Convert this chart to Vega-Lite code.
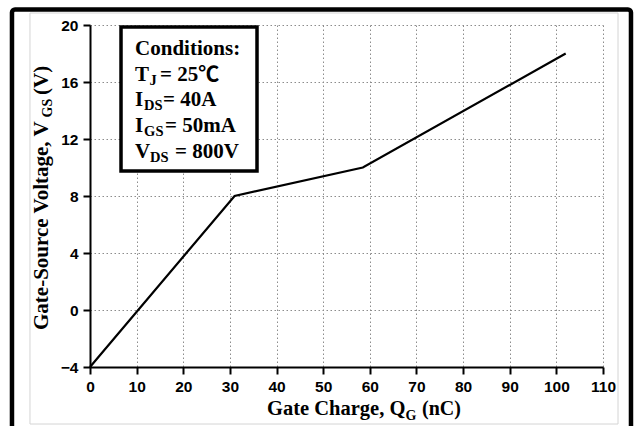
{
  "$schema": "https://vega.github.io/schema/vega-lite/v6.json",
  "width": 513,
  "height": 342,
  "autosize": {"type": "none"},
  "padding": {"left": 90, "top": 25, "right": 34, "bottom": 59},
  "background": "white",
  "config": {"view": {"stroke": null}},
  "datasets": {
    "curve": [
      {"qg": 0, "vgs": -4},
      {"qg": 31, "vgs": 8},
      {"qg": 58.5, "vgs": 10},
      {"qg": 102, "vgs": 18}
    ],
    "one": [{}]
  },
  "layer": [
    {
      "data": {"name": "one"},
      "mark": {"type": "rect", "filled": false, "stroke": "black", "strokeWidth": 4.5, "cornerRadius": 3},
      "encoding": {
        "x": {"datum": -16.73, "type": "quantitative"},
        "x2": {"datum": 116.0},
        "y": {"datum": 21.09, "type": "quantitative"},
        "y2": {"datum": -9.2}
      }
    },
    {
      "data": {"name": "one"},
      "mark": {"type": "rect", "filled": false, "stroke": "#d4d4d4", "strokeWidth": 1},
      "encoding": {
        "x": {"datum": -12.87, "type": "quantitative"},
        "x2": {"datum": 113.22},
        "y": {"datum": 20.84, "type": "quantitative"},
        "y2": {"datum": -8.0}
      }
    },
    {
      "data": {"name": "curve"},
      "mark": {"type": "line", "color": "black", "strokeWidth": 2.2},
      "encoding": {
        "x": {
          "field": "qg", "type": "quantitative",
          "scale": {"domain": [0, 110], "nice": false, "zero": false},
          "axis": {
            "title": null,
            "values": [0, 5, 10, 15, 20, 25, 30, 35, 40, 45, 50, 55, 60, 65, 70, 75, 80, 85, 90, 95, 100, 105, 110],
            "labelExpr": "datum.value % 10 === 0 ? datum.label : ''",
            "labelFont": "Liberation Sans", "labelFontWeight": "bold", "labelFontSize": 15.5, "labelColor": "black",
            "labelPadding": 5, "labelFlush": false, "labelOverlap": false,
            "domainColor": "black", "domainWidth": 2,
            "ticks": true, "tickColor": "black", "tickWidth": 2,
            "tickSize": {"condition": {"test": "datum.value % 10 !== 0", "value": 4}, "value": 7},
            "grid": true, "gridColor": "#8c8c8c", "gridDash": [1.5, 2.5], "gridWidth": 1,
            "gridOpacity": {"condition": {"test": "datum.value % 10 !== 0", "value": 0}, "value": 1}
          }
        },
        "y": {
          "field": "vgs", "type": "quantitative",
          "scale": {"domain": [-4, 20], "nice": false, "zero": false},
          "axis": {
            "title": null,
            "values": [-4, -2, 0, 2, 4, 6, 8, 10, 12, 14, 16, 18, 20],
            "labelExpr": "datum.value % 4 === 0 ? datum.label : ''",
            "labelFont": "Liberation Sans", "labelFontWeight": "bold", "labelFontSize": 15.5, "labelColor": "black",
            "labelPadding": 5, "labelFlush": false, "labelOverlap": false,
            "domainColor": "black", "domainWidth": 2,
            "ticks": true, "tickColor": "black", "tickWidth": 2,
            "tickSize": {"condition": {"test": "datum.value % 4 !== 0", "value": 4}, "value": 7},
            "grid": true, "gridColor": "#8c8c8c", "gridDash": [1.5, 2.5], "gridWidth": 1,
            "gridOpacity": {"condition": {"test": "datum.value % 4 !== 0", "value": 0}, "value": 1}
          }
        }
      }
    },
    {
      "data": {"name": "one"},
      "mark": {"type": "rect", "fill": "white", "stroke": "black", "strokeWidth": 3.5},
      "encoding": {
        "x": {"datum": 6.65, "type": "quantitative"},
        "x2": {"datum": 35.81},
        "y": {"datum": 19.86, "type": "quantitative"},
        "y2": {"datum": 9.75}
      }
    },
    {
      "data": {"name": "one"},
      "mark": {"type": "text", "text": "Conditions:", "font": "Liberation Serif", "fontWeight": "bold", "fontSize": 21, "align": "left", "baseline": "alphabetic", "color": "black"},
      "encoding": {"x": {"datum": 9.67, "type": "quantitative"}, "y": {"datum": 17.9, "type": "quantitative"}}
    },
    {
      "data": {"name": "one"},
      "mark": {"type": "text", "text": "T", "font": "Liberation Serif", "fontWeight": "bold", "fontSize": 21, "align": "left", "baseline": "alphabetic", "color": "black"},
      "encoding": {"x": {"datum": 9.67, "type": "quantitative"}, "y": {"datum": 16.1, "type": "quantitative"}}
    },
    {
      "data": {"name": "one"},
      "mark": {"type": "text", "text": "J", "dx": 14.5, "dy": 4, "font": "Liberation Serif", "fontWeight": "bold", "fontSize": 14.5, "align": "left", "baseline": "alphabetic", "color": "black"},
      "encoding": {"x": {"datum": 9.67, "type": "quantitative"}, "y": {"datum": 16.1, "type": "quantitative"}}
    },
    {
      "data": {"name": "one"},
      "mark": {"type": "text", "text": "= 25℃", "dx": 25, "font": "'Liberation Serif', 'Noto Sans CJK SC'", "fontWeight": "bold", "fontSize": 21, "align": "left", "baseline": "alphabetic", "color": "black"},
      "encoding": {"x": {"datum": 9.67, "type": "quantitative"}, "y": {"datum": 16.1, "type": "quantitative"}}
    },
    {
      "data": {"name": "one"},
      "mark": {"type": "text", "text": "I", "font": "Liberation Serif", "fontWeight": "bold", "fontSize": 21, "align": "left", "baseline": "alphabetic", "color": "black"},
      "encoding": {"x": {"datum": 9.67, "type": "quantitative"}, "y": {"datum": 14.32, "type": "quantitative"}}
    },
    {
      "data": {"name": "one"},
      "mark": {"type": "text", "text": "DS", "dx": 9, "dy": 4, "font": "Liberation Serif", "fontWeight": "bold", "fontSize": 14.5, "align": "left", "baseline": "alphabetic", "color": "black"},
      "encoding": {"x": {"datum": 9.67, "type": "quantitative"}, "y": {"datum": 14.32, "type": "quantitative"}}
    },
    {
      "data": {"name": "one"},
      "mark": {"type": "text", "text": "= 40A", "dx": 28, "font": "Liberation Serif", "fontWeight": "bold", "fontSize": 21, "align": "left", "baseline": "alphabetic", "color": "black"},
      "encoding": {"x": {"datum": 9.67, "type": "quantitative"}, "y": {"datum": 14.32, "type": "quantitative"}}
    },
    {
      "data": {"name": "one"},
      "mark": {"type": "text", "text": "I", "font": "Liberation Serif", "fontWeight": "bold", "fontSize": 21, "align": "left", "baseline": "alphabetic", "color": "black"},
      "encoding": {"x": {"datum": 9.67, "type": "quantitative"}, "y": {"datum": 12.49, "type": "quantitative"}}
    },
    {
      "data": {"name": "one"},
      "mark": {"type": "text", "text": "GS", "dx": 9, "dy": 4, "font": "Liberation Serif", "fontWeight": "bold", "fontSize": 14.5, "align": "left", "baseline": "alphabetic", "color": "black"},
      "encoding": {"x": {"datum": 9.67, "type": "quantitative"}, "y": {"datum": 12.49, "type": "quantitative"}}
    },
    {
      "data": {"name": "one"},
      "mark": {"type": "text", "text": "= 50mA", "dx": 30, "font": "Liberation Serif", "fontWeight": "bold", "fontSize": 21, "align": "left", "baseline": "alphabetic", "color": "black"},
      "encoding": {"x": {"datum": 9.67, "type": "quantitative"}, "y": {"datum": 12.49, "type": "quantitative"}}
    },
    {
      "data": {"name": "one"},
      "mark": {"type": "text", "text": "V", "font": "Liberation Serif", "fontWeight": "bold", "fontSize": 21, "align": "left", "baseline": "alphabetic", "color": "black"},
      "encoding": {"x": {"datum": 9.67, "type": "quantitative"}, "y": {"datum": 10.7, "type": "quantitative"}}
    },
    {
      "data": {"name": "one"},
      "mark": {"type": "text", "text": "DS", "dx": 15, "dy": 4, "font": "Liberation Serif", "fontWeight": "bold", "fontSize": 14.5, "align": "left", "baseline": "alphabetic", "color": "black"},
      "encoding": {"x": {"datum": 9.67, "type": "quantitative"}, "y": {"datum": 10.7, "type": "quantitative"}}
    },
    {
      "data": {"name": "one"},
      "mark": {"type": "text", "text": "= 800V", "dx": 40, "font": "Liberation Serif", "fontWeight": "bold", "fontSize": 21, "align": "left", "baseline": "alphabetic", "color": "black"},
      "encoding": {"x": {"datum": 9.67, "type": "quantitative"}, "y": {"datum": 10.7, "type": "quantitative"}}
    },
    {
      "data": {"name": "one"},
      "mark": {"type": "text", "text": "Gate Charge, Q", "dy": 48, "font": "Liberation Serif", "fontWeight": "bold", "fontSize": 20.5, "align": "left", "baseline": "alphabetic", "color": "black"},
      "encoding": {"x": {"datum": 37.95, "type": "quantitative"}, "y": {"datum": -4, "type": "quantitative"}}
    },
    {
      "data": {"name": "one"},
      "mark": {"type": "text", "text": "G", "dx": 138.5, "dy": 53, "font": "Liberation Serif", "fontWeight": "bold", "fontSize": 14, "align": "left", "baseline": "alphabetic", "color": "black"},
      "encoding": {"x": {"datum": 37.95, "type": "quantitative"}, "y": {"datum": -4, "type": "quantitative"}}
    },
    {
      "data": {"name": "one"},
      "mark": {"type": "text", "text": "(nC)", "dx": 155, "dy": 48, "font": "Liberation Serif", "fontWeight": "bold", "fontSize": 20, "align": "left", "baseline": "alphabetic", "color": "black"},
      "encoding": {"x": {"datum": 37.95, "type": "quantitative"}, "y": {"datum": -4, "type": "quantitative"}}
    },
    {
      "data": {"name": "one"},
      "mark": {"type": "text", "text": "Gate-Source Voltage, V", "angle": 270, "dx": 37, "dy": -42, "font": "Liberation Serif", "fontWeight": "bold", "fontSize": 21, "align": "left", "baseline": "alphabetic", "color": "black"},
      "encoding": {"x": {"datum": 0, "type": "quantitative"}, "y": {"datum": -4, "type": "quantitative"}}
    },
    {
      "data": {"name": "one"},
      "mark": {"type": "text", "text": "GS", "angle": 270, "dx": 249.5, "dy": -38, "font": "Liberation Serif", "fontWeight": "bold", "fontSize": 14, "align": "left", "baseline": "alphabetic", "color": "black"},
      "encoding": {"x": {"datum": 0, "type": "quantitative"}, "y": {"datum": -4, "type": "quantitative"}}
    },
    {
      "data": {"name": "one"},
      "mark": {"type": "text", "text": "(V)", "angle": 270, "dx": 272, "dy": -42, "font": "Liberation Serif", "fontWeight": "bold", "fontSize": 21, "align": "left", "baseline": "alphabetic", "color": "black"},
      "encoding": {"x": {"datum": 0, "type": "quantitative"}, "y": {"datum": -4, "type": "quantitative"}}
    }
  ]
}
